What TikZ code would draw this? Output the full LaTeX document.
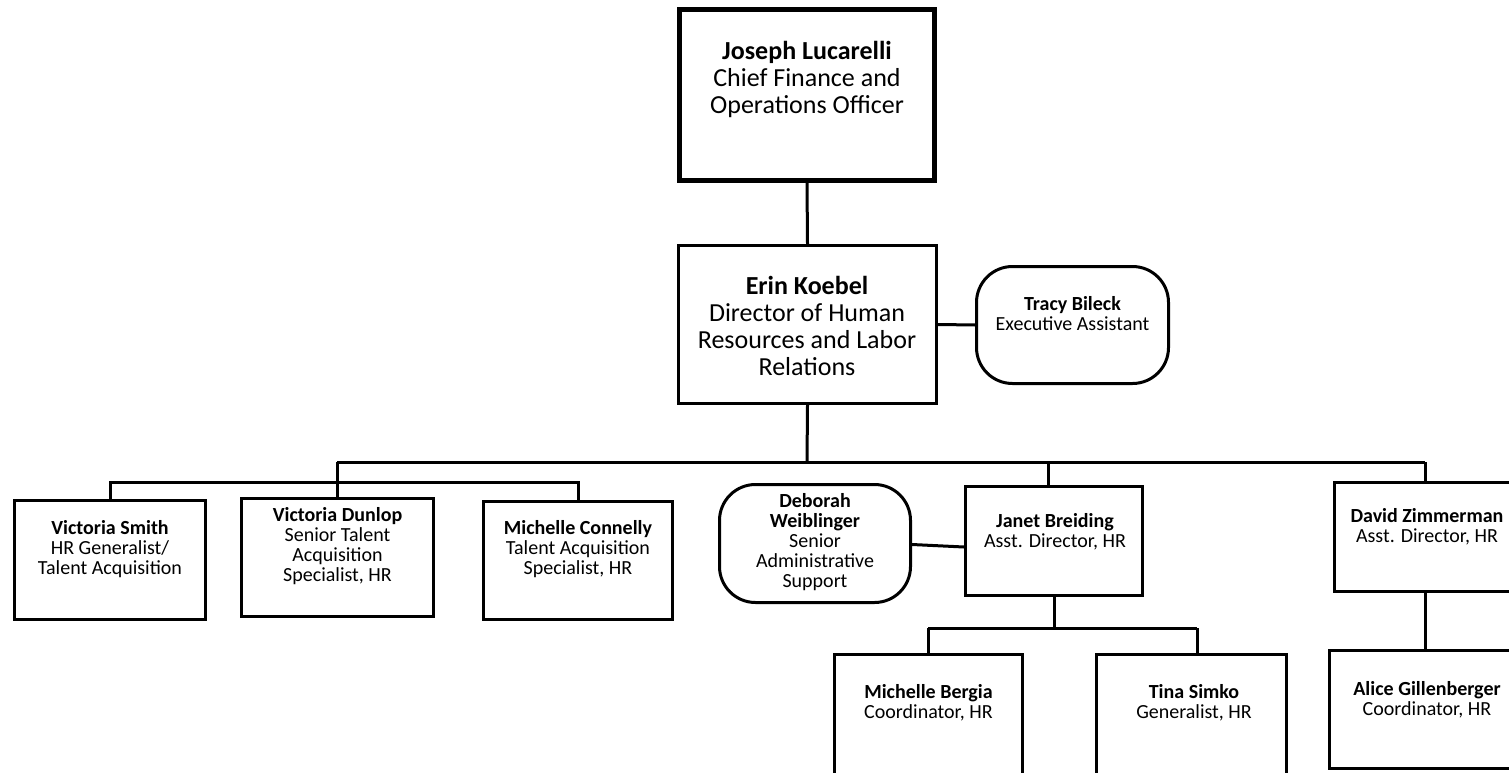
\documentclass[tikz,border=0pt]{standalone}
\usepackage{fontspec}
\setmainfont{Carlito}
\begin{document}
\begin{tikzpicture}[x=1pt,y=-1pt,
  box/.style={draw=black,line width=3pt,rectangle,inner sep=0,fill=white},
  thickbox/.style={box,line width=5pt},
  roundbox/.style={box,rounded corners=36pt},
  big/.style={font=\fontsize{26}{27}\selectfont,align=center,inner sep=0},
  small/.style={font=\fontsize{20}{20}\selectfont,align=center,inner sep=0},
  conn/.style={draw=black,line width=3pt}]
\useasboundingbox (0,0) rectangle (1509,773);
\fill[white] (0,0) rectangle (1509,773);
\clip (0,0) rectangle (1509,773);

% boxes
\node[thickbox,minimum width=255pt,minimum height=171pt] (jl) at (807,95) {};
\node[box,minimum width=258pt,minimum height=158pt] (ek) at (807.5,324.5) {};
\node[roundbox,minimum width=192pt,minimum height=117pt] (tb) at (1072.5,325) {};
\node[box,minimum width=191pt,minimum height=119pt] (vs) at (110,560) {};
\node[box,minimum width=192pt,minimum height=118pt] (vd) at (337.5,557.5) {};
\node[box,minimum width=189pt,minimum height=118pt] (mc) at (578,560.5) {};
\node[roundbox,minimum width=191pt,minimum height=118pt] (dw) at (815,543.5) {};
\node[box,minimum width=177pt,minimum height=109pt] (jb) at (1054,541) {};
\node[box,minimum width=181pt,minimum height=109pt] (dz) at (1425,537) {};
\node[box,minimum width=188pt,minimum height=120pt] (mb) at (928.5,714) {};
\node[box,minimum width=190pt,minimum height=120pt] (ts) at (1191.5,714) {};
\node[box,minimum width=191pt,minimum height=118pt] (ag) at (1425,709.5) {};

% texts
\node[big] (tjl) at (807,79) {\textbf{Joseph Lucarelli}\\Chief Finance and\\Operations Officer};
\node[big] (tek) at (807,325.5) {\textbf{Erin Koebel}\\Director of Human\\Resources and Labor\\Relations};
\node[small] (ttb) at (1072.5,314) {\textbf{Tracy Bileck}\\Executive Assistant};
\node[small] (tvs) at (110,549) {\textbf{Victoria Smith}\\HR Generalist/\\Talent Acquisition};
\node[small] (tvd) at (337.5,546) {\textbf{Victoria Dunlop}\\Senior Talent\\Acquisition\\Specialist, HR};
\node[small] (tmc) at (578,549) {\textbf{Michelle Connelly}\\Talent Acquisition\\Specialist, HR};
\node[small] (tdw) at (815,542) {\textbf{Deborah}\\\textbf{Weiblinger}\\Senior\\Administrative\\Support};
\node[small] (tjb) at (1055,532) {\textbf{Janet Breiding}\\Asst. Director, HR};
\node[small] (tdz) at (1427,527) {\textbf{David Zimmerman}\\Asst. Director, HR};
\node[small] (tmb) at (928.5,703) {\textbf{Michelle Bergia}\\Coordinator, HR};
\node[small] (tts) at (1194,703) {\textbf{Tina Simko}\\Generalist, HR};
\node[small] (tag) at (1427,700) {\textbf{Alice Gillenberger}\\Coordinator, HR};

% connector points
\coordinate (bus) at (807,462);
\coordinate (busL) at (337,462);
\coordinate (busR) at (1425,462);
\coordinate (busJ) at (1048,462);
\coordinate (sbR) at (578,482);
\coordinate (jsub) at (1054,628);
\coordinate (sL) at (928,628);
\coordinate (sR) at (1197,628);

% connectors
\draw[conn] (jl.south) -- (ek.north);
\draw[conn] (ek.east) -- (tb.west);
\draw[conn] (ek.south) -- (bus);
\draw[conn] (busL) -- (busR);
\draw[conn] (busL) -- (busL |- vd.north);
\draw[conn] (vs.north) |- (sbR) -- (mc.north);
\draw[conn] (busJ) -- (busJ |- jb.north);
\draw[conn] (busR) -- (dz.north);
\draw[conn] ([yshift=-1pt]dw.east) -- ([yshift=-6pt]jb.west);
\draw[conn] (jb.south) -- (jsub);
\draw[conn] (sL) -- (sR);
\draw[conn] (sL) -- (sL |- mb.north);
\draw[conn] (sR) -- (sR |- ts.north);
\draw[conn] (dz.south) -- (ag.north);
\end{tikzpicture}
\end{document}
